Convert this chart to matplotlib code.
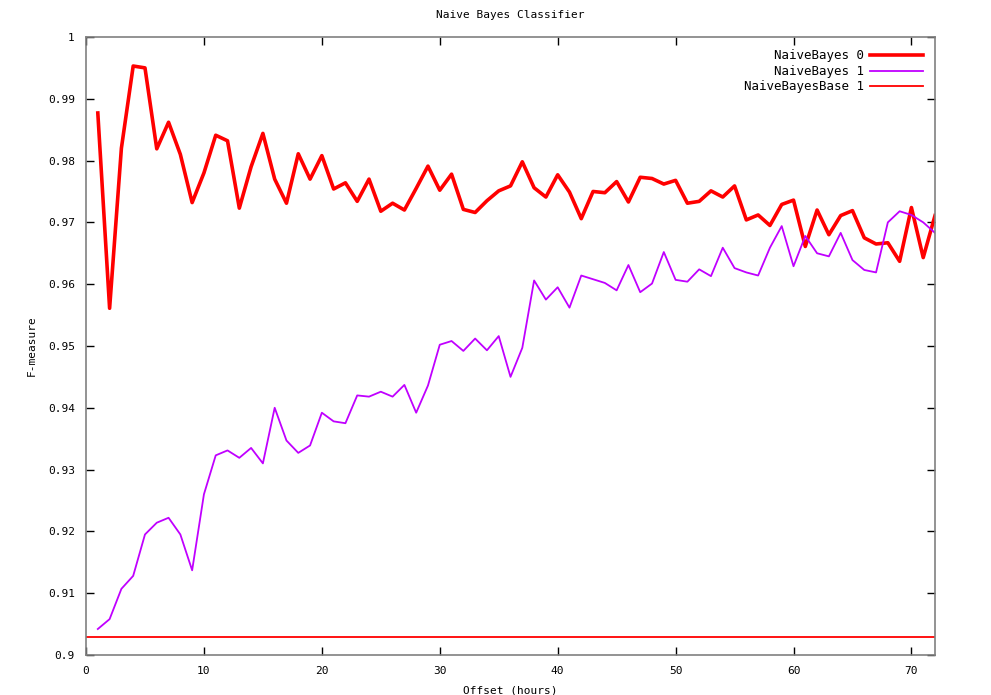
import numpy as np
import matplotlib
matplotlib.use("Agg")
import matplotlib.pyplot as plt

# offsets in hours
offset = list(range(1, 73))

nb0 = [0.9877, 0.9561, 0.9820, 0.9953, 0.9950, 0.9819, 0.9862, 0.9810, 0.9732, 0.9780,
       0.9841, 0.9832, 0.9723, 0.9790, 0.9844, 0.9770, 0.9731, 0.9811, 0.9770, 0.9808,
       0.9754, 0.9764, 0.9734, 0.9770, 0.9718, 0.9731, 0.9720, 0.9755, 0.9791, 0.9752,
       0.9778, 0.9721, 0.9716, 0.9735, 0.9751, 0.9759, 0.9798, 0.9756, 0.9741, 0.9777,
       0.9749, 0.9706, 0.9750, 0.9748, 0.9766, 0.9733, 0.9773, 0.9771, 0.9762, 0.9768,
       0.9731, 0.9734, 0.9751, 0.9741, 0.9759, 0.9704, 0.9712, 0.9695, 0.9729, 0.9736,
       0.9661, 0.9720, 0.9680, 0.9711, 0.9719, 0.9675, 0.9665, 0.9667, 0.9637, 0.9724,
       0.9643, 0.9711]

nb1 = [0.9042, 0.9058, 0.9107, 0.9128, 0.9195, 0.9214, 0.9222, 0.9195, 0.9137, 0.9260,
       0.9323, 0.9331, 0.9319, 0.9335, 0.9310, 0.9400, 0.9347, 0.9327, 0.9339, 0.9392,
       0.9378, 0.9375, 0.9420, 0.9418, 0.9426, 0.9418, 0.9437, 0.9392, 0.9436, 0.9502,
       0.9508, 0.9492, 0.9512, 0.9493, 0.9516, 0.9450, 0.9497, 0.9606, 0.9575, 0.9595,
       0.9562, 0.9614, 0.9608, 0.9602, 0.9590, 0.9631, 0.9587, 0.9601, 0.9652, 0.9607,
       0.9604, 0.9624, 0.9613, 0.9659, 0.9626, 0.9619, 0.9614, 0.9659, 0.9694, 0.9629,
       0.9678, 0.9650, 0.9645, 0.9683, 0.9639, 0.9623, 0.9619, 0.9700, 0.9718, 0.9712,
       0.9700, 0.9683]

base1 = 0.9029

x_ticks = [0, 10, 20, 30, 40, 50, 60, 70]
y_ticks = [0.9, 0.91, 0.92, 0.93, 0.94, 0.95, 0.96, 0.97, 0.98, 0.99, 1.0]
y_labels = ["0.9", "0.91", "0.92", "0.93", "0.94", "0.95", "0.96", "0.97", "0.98", "0.99", "1"]

plt.rcParams["font.family"] = "DejaVu Sans Mono"
plt.rcParams["font.size"] = 8

fig = plt.figure(figsize=(9.91, 6.95), dpi=100)
ax = fig.add_axes([0.0868, 0.0576, 0.8567, 0.8892])

ax.plot(offset, nb0, color="#ff0000", linewidth=2.6, label="NaiveBayes 0")
ax.plot(offset, nb1, color="#c000ff", linewidth=1.3, label="NaiveBayes 1")
ax.axhline(base1, color="#ff0000", linewidth=1.3, label="NaiveBayesBase 1")

ax.set_xlim(0, 72)
ax.set_ylim(0.9, 1.0)
ax.set_xticks(x_ticks)
ax.set_yticks(y_ticks)
ax.set_yticklabels(y_labels)
ax.tick_params(direction="in", length=6, width=1, top=True, right=True,
               colors="black", pad=8, labelsize=8)
for s in ax.spines.values():
    s.set_color("#808080")
    s.set_linewidth(1.2)

ax.set_title("Naive Bayes Classifier", fontsize=8, pad=14)
ax.set_xlabel("Offset (hours)", fontsize=8, labelpad=7)
ax.set_ylabel("F-measure", fontsize=8, labelpad=8)

leg = ax.legend(loc="upper right", frameon=False, markerfirst=False,
                handlelength=4.2, handletextpad=0.5, labelspacing=0.2,
                borderaxespad=0.6, fontsize=9)

fig.savefig("out.png", dpi=100)
